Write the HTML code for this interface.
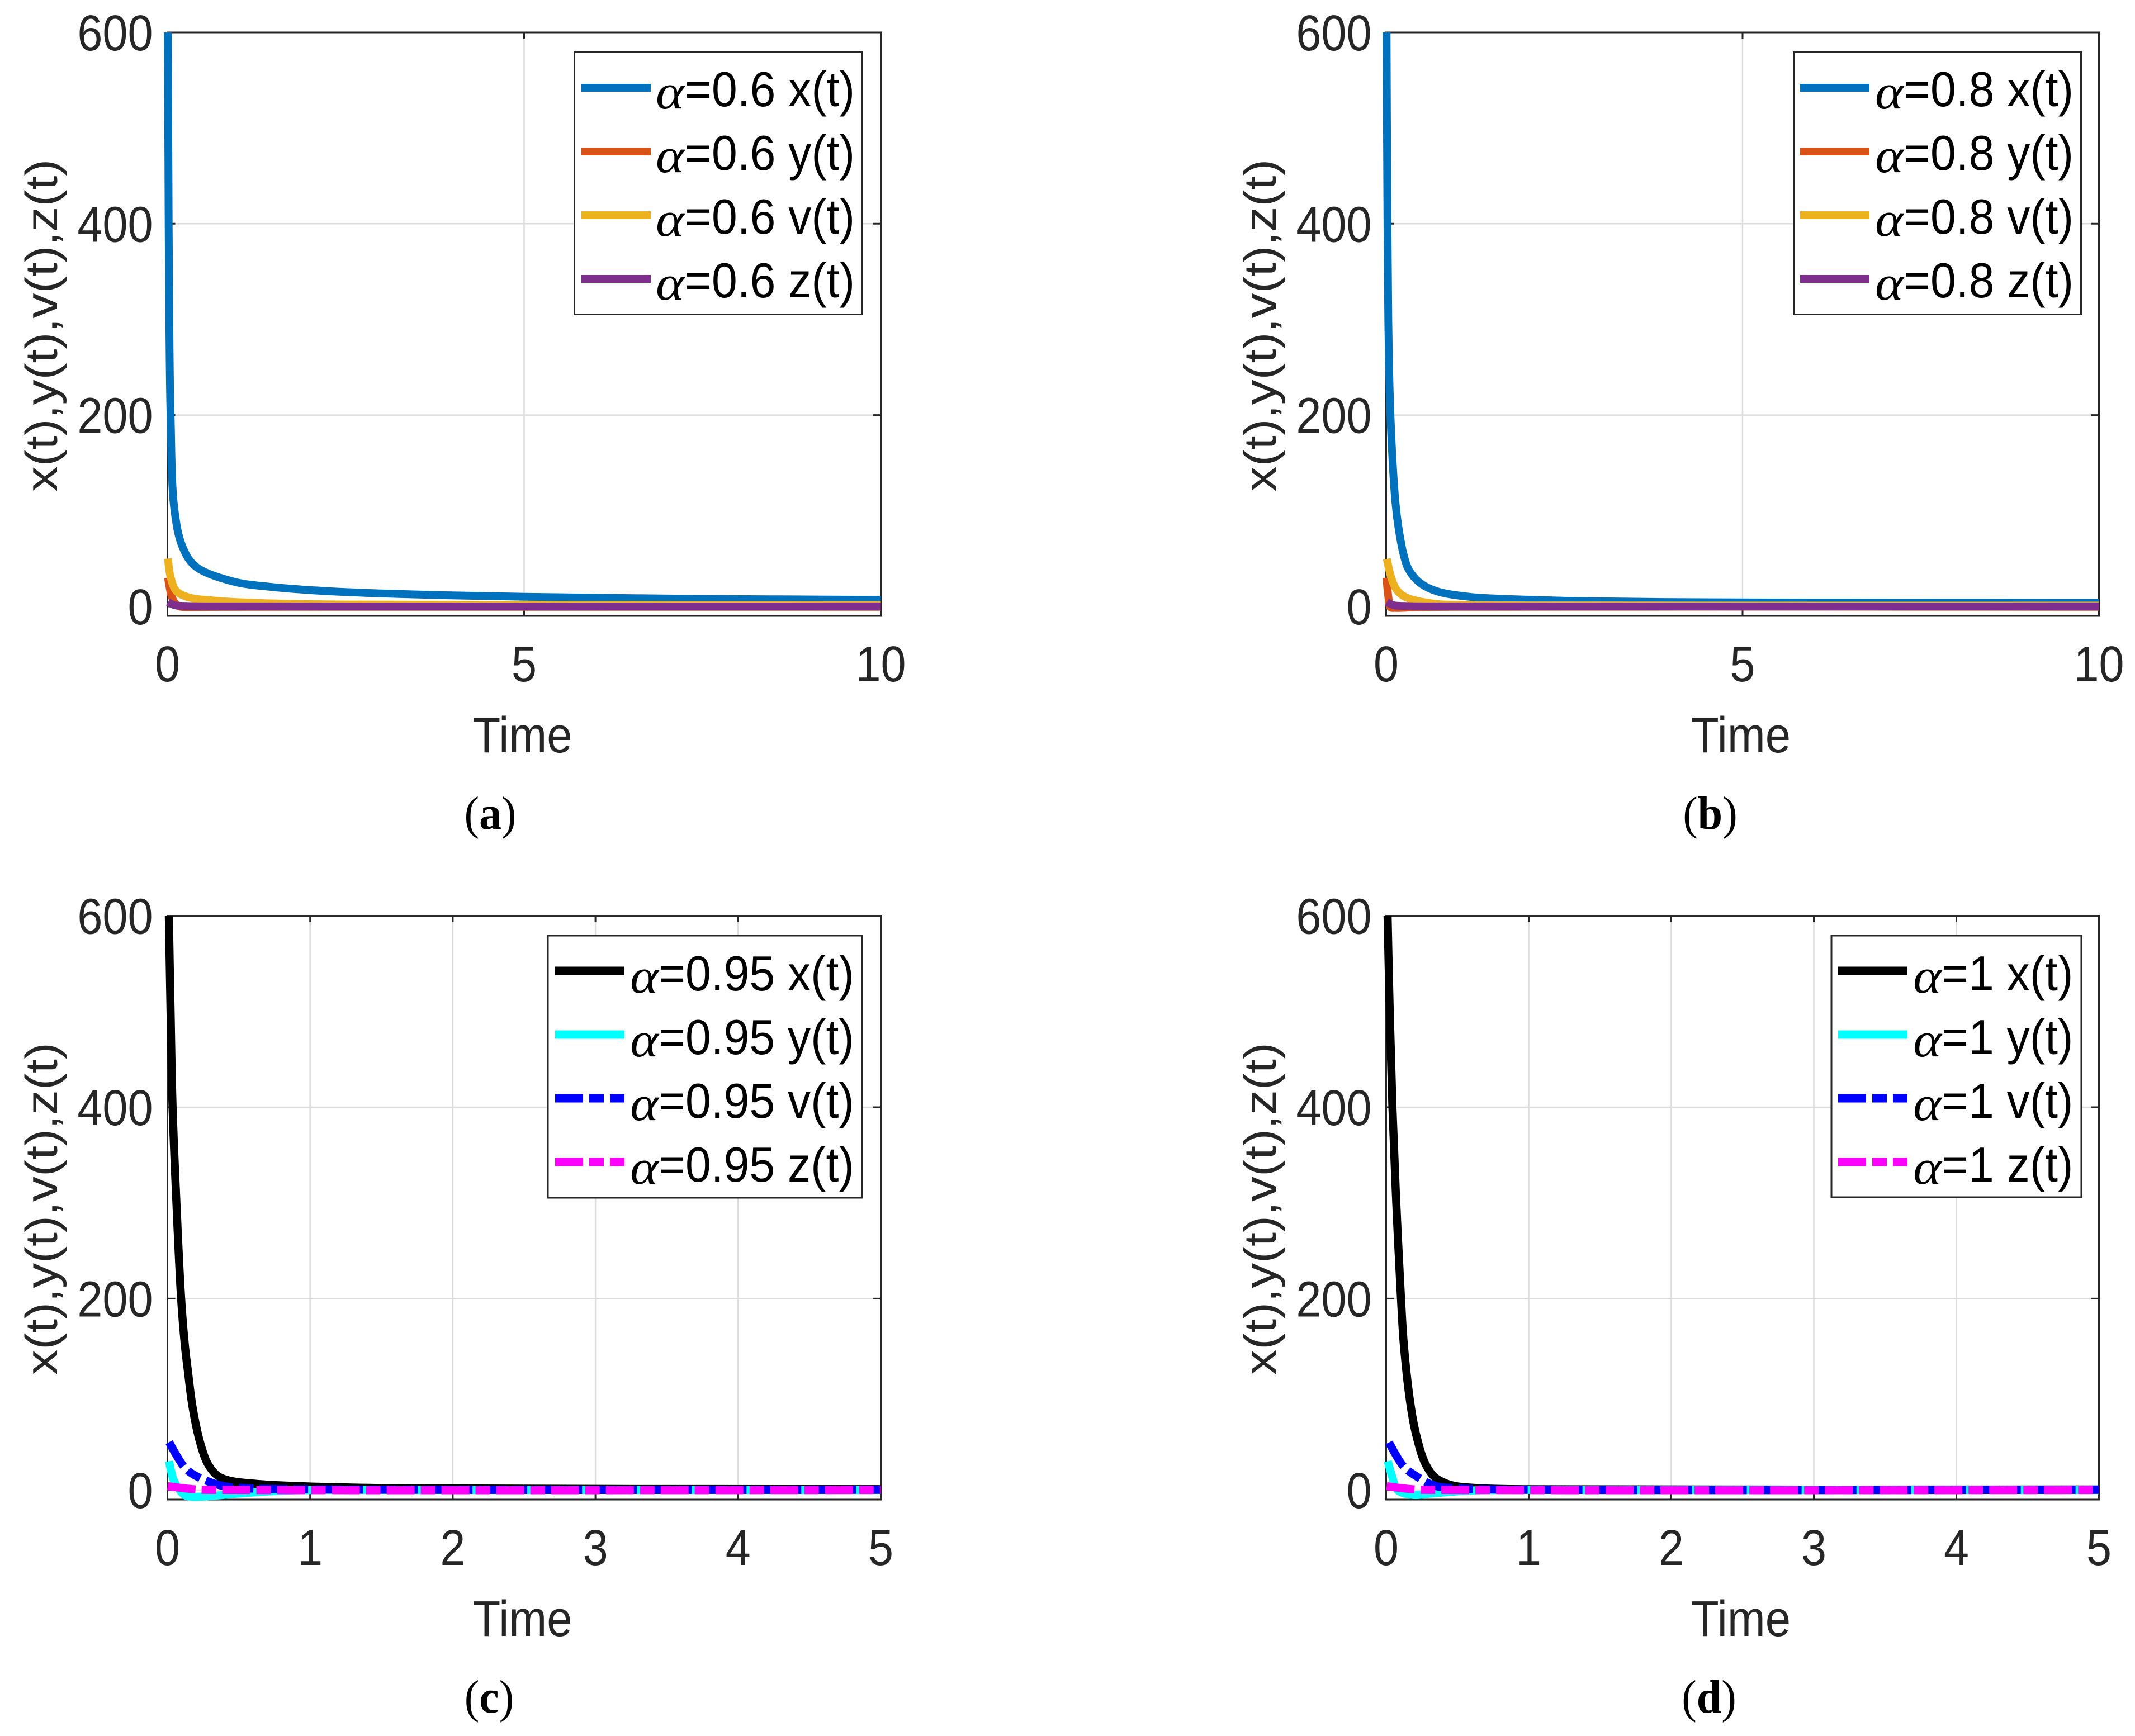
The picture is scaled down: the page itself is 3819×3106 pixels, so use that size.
<!DOCTYPE html>
<html lang="en">
<head>
<meta charset="utf-8">
<title>Fractional order system trajectories</title>
<style>
html,body{margin:0;padding:0;background:#fff}
svg{display:block}
text{font-family:"Liberation Sans",Arial,sans-serif}
</style>
</head>
<body>
<svg id="figure" xmlns="http://www.w3.org/2000/svg" width="3819" height="3106" viewBox="0 0 3819 3106">
<rect width="3819" height="3106" fill="#fff"></rect>
</svg>
<script>
// Tick labels
const yTicks = [0, 200, 400, 600];
const xTicksWide = [0, 5, 10];
const xTicksNarrow = [0, 1, 2, 3, 4, 5];

// Panel (a), alpha = 0.6
const aXt = [0.006, 0.012, 0.022, 0.044, 0.098, 0.21, 0.39, 0.92, 1.5, 2.22, 3, 3.8, 5, 7.3, 10];
const aXv = [600, 488, 343, 200, 101, 62.5, 42, 26, 20, 16, 13.5, 11.8, 10, 8, 6.8];
const aYt = [0.008, 0.03, 0.06, 0.11, 0.16, 0.22, 0.35, 0.8, 2, 10];
const aYv = [30, 20, 10, 3, 0, -0.7, -0.8, -0.6, -0.5, -0.5];
const aVt = [0.008, 0.043, 0.12, 0.27, 0.66, 1.28, 2.5, 5, 10];
const aVv = [50, 31, 16.4, 10, 6, 3.5, 1.9, 1.5, 1.4];
const aZt = [0.008, 0.1, 0.3, 1, 10];
const aZv = [4.5, 1.3, 0.3, 0, 0];

// Panel (b), alpha = 0.8
const bXt = [0.006, 0.015, 0.03, 0.06, 0.131, 0.18, 0.245, 0.32, 0.476, 0.71, 1.18, 1.97, 2.75, 3.9, 6, 10];
const bXv = [600, 450, 300, 200, 108, 79, 54, 38, 24.5, 15.8, 9.9, 7, 5.5, 4.5, 3.9, 3.5];
const bYt = [0.005, 0.03, 0.06, 0.13, 0.25, 0.4, 1, 10];
const bYv = [30, 10.5, -1, -1.6, -1.5, -0.9, -0.5, -0.5];
const bVt = [0.01, 0.07, 0.146, 0.265, 0.66, 1.2, 2.5, 10];
const bVv = [49.7, 30.4, 17.5, 9.9, 2.9, 1.5, 1, 0.8];
const bZt = [0.008, 0.1, 0.3, 1, 10];
const bZv = [4.5, 1.3, 0.3, 0, 0];

// Panel (c), alpha = 0.95
const cXt = [0.01, 0.022, 0.036, 0.063, 0.096, 0.123, 0.142, 0.178, 0.232, 0.284, 0.35, 0.43, 0.66, 1.1, 1.76, 5];
const cXv = [600, 500, 400, 300, 200, 150, 126, 85, 48, 27, 15, 10, 6, 3.2, 1.7, 0.9];
const cYt = [0.012, 0.047, 0.118, 0.17, 0.31, 0.48, 0.83, 2, 5];
const cYv = [30, 9.3, -5, -7, -6.2, -3.9, -0.6, 0, 0];
const cVt = [0.012, 0.118, 0.196, 0.38, 0.57, 0.8, 2, 5];
const cVv = [50, 24, 15, 4.5, 1.7, 0.9, 0.2, 0.2];
const cZt = [0.002, 0.2, 0.4, 5];
const cZv = [4, 0.6, 0.1, 0];

// Panel (d), alpha = 1
const dXt = [0.01, 0.025, 0.044, 0.071, 0.104, 0.125, 0.175, 0.21, 0.27, 0.335, 0.41, 0.49, 0.7, 1, 5];
const dXv = [600, 500, 400, 300, 200, 150, 85, 58, 29, 14.2, 7.5, 4, 1.6, 0.8, 0.5];
const dYt = [0.012, 0.04, 0.08, 0.18, 0.34, 0.6, 1.5, 5];
const dYv = [30, 15, 0, -5, -3.3, -0.5, 0, 0];
const dVt = [0.02, 0.12, 0.205, 0.34, 0.5, 0.72, 5];
const dVv = [49.7, 25, 15, 4.5, 1.7, 0.6, 0.2];
const dZt = [0.004, 0.2, 0.4, 5];
const dZv = [4, 0.6, 0.1, 0];

const legendSuffixes = ['x(t)', 'y(t)', 'v(t)', 'z(t)'];
const seriesNames = ['x', 'y', 'v', 'z'];

const INK = '#262626', GRID = '#dcdcdc', SX = 0.9, DASH = '50 11 26 11';
const paletteTop = ['#0072BD', '#D95319', '#EDB120', '#7E2F8E'];
const paletteBottom = ['#000000', '#00FFFF', '#0000FF', '#FF00FF'];

const panels = [
  {key:'a', caption:'a', left:299.5, right:1575.5, top:58, bottom:1102, xTicks:xTicksWide, alpha:'0.6',
   colors:paletteTop, dashes:[null,null,null,null], lw:14, capX:877,
   times:[aXt,aYt,aVt,aZt], values:[aXv,aYv,aVv,aZv],
   box:[1027.5,93.5,1542.5,562.5], lineX:[1040,1164], lineY:[157,271,385,499], alphaX:1173, textX:1225, lh:14, base:33},
  {key:'b', caption:'b', left:2479.5, right:3754.5, top:58, bottom:1102, xTicks:xTicksWide, alpha:'0.8',
   colors:paletteTop, dashes:[null,null,null,null], lw:14, capX:3059,
   times:[bXt,bYt,bVt,bZt], values:[bXv,bYv,bVv,bZv],
   box:[3208.5,93.5,3722.5,562.5], lineX:[3220,3344], lineY:[157,271,385,499], alphaX:3354, textX:3405, lh:14, base:33},
  {key:'c', caption:'c', left:299.5, right:1575.5, top:1638.5, bottom:2683, xTicks:xTicksNarrow, alpha:'0.95',
   colors:paletteBottom, dashes:[null,null,DASH,DASH], lw:14.5, capX:875,
   times:[cXt,cYt,cVt,cZt], values:[cXv,cYv,cVv,cZv],
   box:[980,1674,1542,2143], lineX:[993,1117], lineY:[1737,1851,1965,2079], alphaX:1127, textX:1178, lh:15, base:35},
  {key:'d', caption:'d', left:2479.5, right:3754.5, top:1638.5, bottom:2683, xTicks:xTicksNarrow, alpha:'1',
   colors:paletteBottom, dashes:[null,null,DASH,DASH], lw:14.5, capX:3057,
   times:[dXt,dYt,dVt,dZt], values:[dXv,dYv,dVv,dZv],
   box:[3276,1674,3723,2142], lineX:[3288,3412], lineY:[1737,1851,1965,2079], alphaX:3422, textX:3473, lh:15, base:35}
];

const SVGNS = 'http://www.w3.org/2000/svg';
const root = document.getElementById('figure');

function make(tag, attrs, parent) {
  const node = document.createElementNS(SVGNS, tag);
  for (const k in attrs) node.setAttribute(k, attrs[k]);
  parent.appendChild(node);
  return node;
}

// Centripetal Catmull-Rom path through pixel points
function smoothPath(px, py) {
  const n = px.length;
  let s = 'M' + px[0].toFixed(2) + ' ' + py[0].toFixed(2);
  for (let i = 0; i < n - 1; i++) {
    const i0 = Math.max(i - 1, 0), i3 = Math.min(i + 2, n - 1);
    const d1 = Math.pow(Math.hypot(px[i] - px[i0], py[i] - py[i0]), 0.5);
    const d2 = Math.pow(Math.hypot(px[i + 1] - px[i], py[i + 1] - py[i]), 0.5);
    const d3 = Math.pow(Math.hypot(px[i3] - px[i + 1], py[i3] - py[i + 1]), 0.5);
    let b1x = px[i], b1y = py[i], b2x = px[i + 1], b2y = py[i + 1];
    if (d1 > 0) {
      const a = 2 * d1 * d1 + 3 * d1 * d2 + d2 * d2, c = 3 * d1 * (d1 + d2);
      b1x = (a * px[i] - d2 * d2 * px[i0] + d1 * d1 * px[i + 1]) / c;
      b1y = (a * py[i] - d2 * d2 * py[i0] + d1 * d1 * py[i + 1]) / c;
    }
    if (d3 > 0) {
      const a = 2 * d3 * d3 + 3 * d3 * d2 + d2 * d2, c = 3 * d3 * (d3 + d2);
      b2x = (a * px[i + 1] - d2 * d2 * px[i3] + d3 * d3 * px[i]) / c;
      b2y = (a * py[i + 1] - d2 * d2 * py[i3] + d3 * d3 * py[i]) / c;
    }
    s += 'C' + b1x.toFixed(2) + ' ' + b1y.toFixed(2) + ' ' + b2x.toFixed(2) + ' ' + b2y.toFixed(2) + ' ' +
         px[i + 1].toFixed(2) + ' ' + py[i + 1].toFixed(2);
  }
  return s;
}

panels.forEach(function (p) {
  const xMax = p.xTicks[p.xTicks.length - 1];
  const yMin = -10, yMax = 600;
  const xScale = function (t) { return p.left + (p.right - p.left) * t / xMax; };
  const yScale = function (v) { return p.bottom - (p.bottom - p.top) * (v - yMin) / (yMax - yMin); };

  let el = make('g', {}, root);
  
  
  const g = el;

  // Grid lines
  p.xTicks.forEach(function (t) {
    const el = make('line', {x1:xScale(t), x2:xScale(t), y1:p.top, y2:p.bottom, stroke:GRID, 'stroke-width':2.5}, g);
    
    
  });
  yTicks.forEach(function (v) {
    const el = make('line', {x1:p.left, x2:p.right, y1:yScale(v), y2:yScale(v), stroke:GRID, 'stroke-width':2.5}, g);
    
    
  });

  // Axes box
  el = make('rect', {x:p.left, y:p.top, width:p.right - p.left, height:p.bottom - p.top, fill:'none', stroke:INK, 'stroke-width':3}, g);
  
  

  // X ticks and labels
  p.xTicks.forEach(function (t) {
    const x = xScale(t);
    let el = make('path', {d:'M' + x + ' ' + p.bottom + 'V' + (p.bottom - 11) + 'M' + x + ' ' + p.top + 'V' + (p.top + 11), stroke:INK, 'stroke-width':3, fill:'none'}, g);
    
    
    el = make('text', {transform:'translate(' + x + ',' + (p.bottom + 117) + ') scale(' + SX + ',1)', 'text-anchor':'middle', 'font-size':90, fill:INK}, g);
    
    
    el.textContent = String(t);
  });

  // Y ticks and labels
  yTicks.forEach(function (v) {
    const y = yScale(v);
    let el = make('path', {d:'M' + p.left + ' ' + y + 'H' + (p.left + 14) + 'M' + p.right + ' ' + y + 'H' + (p.right - 14), stroke:INK, 'stroke-width':3, fill:'none'}, g);
    
    
    el = make('text', {transform:'translate(' + (p.left - 26) + ',' + (y + 32) + ') scale(' + SX + ',1)', 'text-anchor':'end', 'font-size':90, fill:INK}, g);
    
    
    el.textContent = String(v);
  });

  // Axis titles
  el = make('text', {transform:'translate(' + (p.left - 197.5) + ',' + (p.top + 524) + ') scale(' + SX + ',1) rotate(-90)', 'text-anchor':'middle', 'font-size':90, fill:INK}, g);
  
  
  el.textContent = 'x(t),y(t),v(t),z(t)';

  el = make('text', {transform:'translate(' + ((p.left + p.right) / 2 - 3) + ',' + (p.bottom + 244) + ') scale(0.905,1)', 'text-anchor':'middle', 'font-size':90, fill:INK}, g);
  
  
  el.textContent = 'Time';

  // Series curves
  p.times.forEach(function (ts, i) {
    const el = make('path', {d:smoothPath(ts.map(xScale), p.values[i].map(yScale)), fill:'none', stroke:p.colors[i], 'stroke-width':p.lw, 'stroke-linejoin':'round', 'stroke-linecap':'butt'}, g);
    if (p.dashes[i]) el.setAttribute('stroke-dasharray', p.dashes[i]);
    
    
  });

  // Legend
  el = make('g', {}, g);
  
  
  const lg = el;

  el = make('rect', {x:p.box[0], y:p.box[1], width:p.box[2] - p.box[0], height:p.box[3] - p.box[1], fill:'#fff', stroke:INK, 'stroke-width':3}, lg);
  
  

  legendSuffixes.forEach(function (suffix, i) {
    const ly = p.lineY[i];
    let el = make('line', {x1:p.lineX[0], x2:p.lineX[1], y1:ly, y2:ly, stroke:p.colors[i], 'stroke-width':p.lh}, lg);
    if (p.dashes[i]) el.setAttribute('stroke-dasharray', p.dashes[i]);
    
    

    el = make('text', {transform:'translate(' + p.alphaX + ',' + (ly + p.base + 4) + ') scale(1.1,1)', 'font-size':88, 'font-style':'italic', fill:'#000', style:'font-family:"Liberation Serif",serif'}, lg);
    
    
    el.textContent = '\u03B1';

    el = make('text', {transform:'translate(' + p.textX + ',' + (ly + p.base) + ') scale(0.935,1)', 'font-size':88, fill:'#000', 'xml:space':'preserve'}, lg);
    
    
    el.textContent = '=' + p.alpha + ' ' + suffix;
  });

  // Caption
  el = make('text', {transform:'translate(' + p.capX + ',' + (p.bottom + 381) + ') scale(0.95,1)', 'text-anchor':'middle', 'font-size':84, fill:'#000', style:'font-family:"Liberation Serif",serif'}, g);
  
  
  el.appendChild(document.createTextNode('('));
  const bold = make('tspan', {'font-weight':'bold'}, el);
  bold.textContent = p.caption;
  el.appendChild(document.createTextNode(')'));
});
</script>
</body>
</html>
